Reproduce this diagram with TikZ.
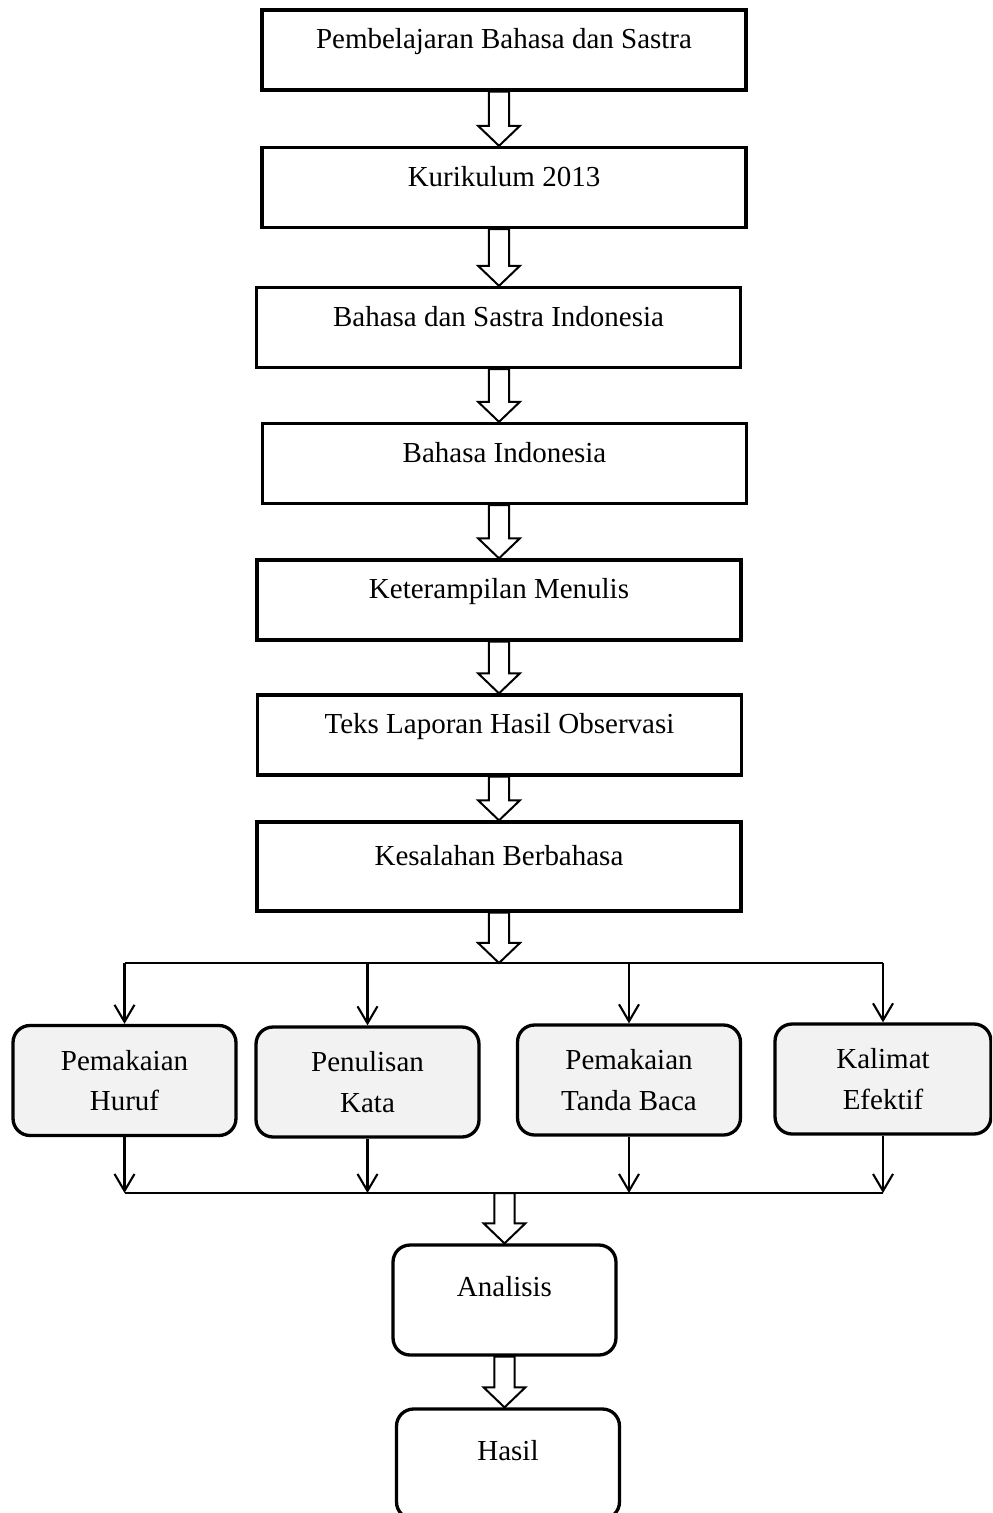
\documentclass[tikz,border=0pt]{standalone}
\usepackage{fontspec}
\setmainfont{Liberation Serif}
\usetikzlibrary{arrows.meta,calc}

\tikzset{
  flowbox/.style={draw,line width=0.066cm,minimum width=9.68cm,minimum height=1.6cm,
    text height=12pt,text depth=13.5pt},
  subbox/.style={draw,line width=0.066cm,rounded corners=0.34cm,fill=gray!10,
    minimum width=4.46cm,minimum height=2.2cm,align=center},
  endbox/.style={draw,line width=0.066cm,rounded corners=0.34cm,
    minimum width=4.46cm,minimum height=2.2cm,text height=12pt,text depth=16.5pt},
  fat/.style={draw,fill=white,line width=0.04cm,line join=miter},
  link/.style={line width=0.042cm},
  linkarrow/.style={link,-{Straight Barb[length=0.34cm,width=0.4cm]}},
}

% hollow block arrow, straight down from #1 to #2
\newcommand{\fatarrow}[2]{%
  \path[fat] let \p1=(#1), \p2=(#2) in
    (\x1-5.7pt,\y1) -- (\x1-5.7pt,\y2+11.4pt) -- (\x1-11.9pt,\y2+11.4pt) -- (\x1,\y2)
    -- (\x1+11.9pt,\y2+11.4pt) -- (\x1+5.7pt,\y2+11.4pt) -- (\x1+5.7pt,\y1) -- cycle;}

\begin{document}
\begin{tikzpicture}
    [x=0.02cm,y=-0.02cm,every node/.style={font=\fontsize{16.5}{23}\selectfont}]
    \useasboundingbox (0,0) rectangle (992,1513);
    \clip (0,0) rectangle (992,1513);
    \node[flowbox] (b1) at (504,50) {Pembelajaran Bahasa dan Sastra};
    \node[flowbox] (b2) at (504,187.5) {Kurikulum 2013};
    \node[flowbox] (b3) at (498.5,327.5) {Bahasa dan Sastra Indonesia};
    \node[flowbox] (b4) at (504.5,463.5) {Bahasa Indonesia};
    \node[flowbox] (b5) at (499,600) {Keterampilan Menulis};
    \node[flowbox] (b6) at (499.5,735) {Teks Laporan Hasil Observasi};
    \node[flowbox,minimum height=1.78cm] (b7) at (499,866.5) {Kesalahan Berbahasa};
    \node[subbox] (huruf) at (124.5,1080.5) {Pemakaian\\Huruf};
    \node[subbox] (kata) at (367.5,1082) {Penulisan\\Kata};
    \node[subbox] (tanda) at (629,1080) {Pemakaian\\Tanda Baca};
    \node[subbox,minimum width=4.32cm] (efektif) at (883,1079) {Kalimat\\Efektif};
    \node[endbox] (an) at (504.5,1300) {Analisis};
    \node[endbox] (hasil) at (508,1464) {Hasil};
    \coordinate (axis) at (499,0);
    \coordinate (split) at (499,963);
    \coordinate (merge) at (502,1193);
    % block arrows down the column
    \foreach \a/\b in {b1/b2,b2/b3,b3/b4,b4/b5,b5/b6,b6/b7}
      {\fatarrow{\a.south -| axis}{\b.north -| axis}}
    \fatarrow{b7.south -| axis}{split}
    % split to the four aspects
    \draw[link] (huruf.north |- split) -- (efektif.north |- split);
    \foreach \n in {huruf,kata,tanda,efektif}
      \draw[linkarrow] (\n.north |- split) -- (\n.north);
    % and back together
    \foreach \n in {huruf,kata,tanda,efektif}
      \draw[linkarrow] (\n.south) -- (\n.south |- merge);
    \draw[link] (huruf.south |- merge) -- (efektif.south |- merge);
    \fatarrow{an.north |- merge}{an.north}
    \fatarrow{an.south}{hasil.north -| an.south}
  \end{tikzpicture}
\end{document}
